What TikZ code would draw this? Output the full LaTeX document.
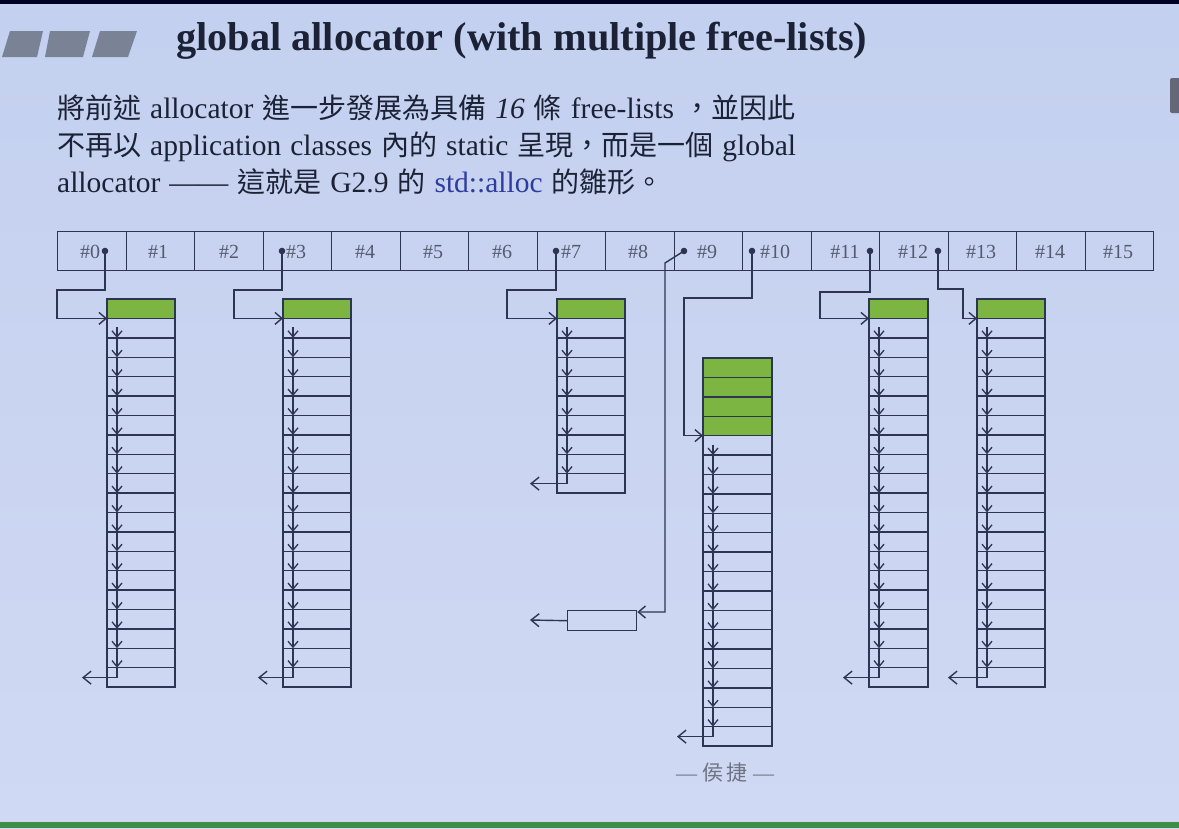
\documentclass[tikz,border=0pt]{standalone}
\usepackage{fontspec}
\setmainfont{Liberation Serif}
\newfontfamily\cjkfont{Noto Sans CJK TC}
\usetikzlibrary{arrows.meta}

\definecolor{bgtop}{HTML}{C3D0EF}
\definecolor{bgbot}{HTML}{D0D9F3}
\definecolor{inkc}{HTML}{2C3652}
\definecolor{txtc}{HTML}{1C2235}
\definecolor{labc}{HTML}{535B6E}
\definecolor{greenc}{HTML}{7DB542}
\definecolor{bluec}{HTML}{2E3C9E}
\definecolor{markc}{HTML}{7A8296}
\definecolor{footc}{HTML}{3E8E46}

\newcommand\rowh{19.4}
\newcommand\zh[1]{{\cjkfont\fontsize{28}{28}\selectfont #1}}
\newcommand\widesp{\spaceskip=9pt plus 1pt\relax}

% one free-list: name, left x, top y, green blocks, white blocks, exit x, width
\newcommand\freelist[7]{%
  \pgfmathsetmacro\gbot{#3+#4*\rowh}%
  \pgfmathsetmacro\wbot{\gbot+#5*\rowh}%
  \pgfmathtruncatemacro\nmid{#5-2}%
  \pgfmathtruncatemacro\nw{#5-1}%
  \fill[greenc] (#2,#3) rectangle (#2+#7,\gbot);
  \draw[ink] (#2,#3) rectangle (#2+#7,\wbot);
  \foreach \r in {1,...,#4}
    \draw[ink] (#2,{#3+\r*\rowh}) -- ++(#7,0);
  \foreach \r in {1,...,\nw}
    \draw[ink] (#2,{\gbot+\r*\rowh}) -- ++(#7,0);
  \coordinate (#1in) at (#2,\gbot);
  \coordinate (#1a) at (#2+10,\gbot+9);
  \draw[darr] (#1a) -- (#2+10,\gbot+\rowh);
  \foreach \r in {1,...,\nmid}
    \draw[darr] (#2+10,{\gbot+\r*\rowh}) -- ++(0,\rowh);
  \coordinate (#1z) at (#2+10,{\gbot+(#5-1)*\rowh+10});
  \coordinate (#1out) at (#6,{\gbot+(#5-1)*\rowh+10});
  \draw[ink] (#2+10,{\gbot+(#5-1)*\rowh}) -- (#1z);
  \draw[earr] (#1z) -- (#1out);
}

\begin{document}
\begin{tikzpicture}[x=1pt,y=-1pt,
  ink/.style={draw=inkc, line width=1.4pt},
  cell/.style={draw=inkc, line width=1.4pt, minimum width=68.5pt, minimum height=39pt, inner sep=0pt, anchor=north west},
  celltxt/.style={text=labc, font=\fontsize{20}{20}\selectfont, inner sep=0pt, anchor=base},
  ptr/.style={draw=inkc, line width=1.4pt, -{Straight Barb[length=7pt,width=12pt,line width=1.4pt]}},
  darr/.style={draw=inkc, line width=1.2pt, -{Straight Barb[length=6pt,width=10pt,line width=1.3pt]}},
  earr/.style={draw=inkc, line width=1.4pt, -{Straight Barb[length=8pt,width=13pt,line width=1.4pt]}},
  para/.style={anchor=base west, inner sep=0pt, text=txtc, font=\fontsize{29.5}{29.5}\selectfont}
]
\useasboundingbox (0,0) rectangle (1179,828);
% slide background
\shade[top color=bgtop, bottom color=bgbot] (0,0) rectangle (1179,828);
\fill[black!85!blue] (0,0) rectangle (1179,4);
\fill[footc] (0,822) rectangle (1179,828);
\fill[markc!80!black, rounded corners=2pt] (1170,78) rectangle (1185,113);

% title bar
\fill[markc] (10,31) -- (43,31) -- (37,57) -- (2,57) -- cycle;
\fill[markc] (50,31) -- (90,31) -- (83,57) -- (45,57) -- cycle;
\fill[markc] (100,31) -- (137,31) -- (128,57) -- (92,57) -- cycle;
\node[anchor=base west, inner sep=0pt, text=txtc, font=\fontsize{40.3}{40}\selectfont\bfseries] (title) at (176,50) {global allocator (with multiple free-lists)};

% paragraph
\node[para] (p1) at (57,118) {\widesp\zh{將前述} allocator \zh{進一步發展為具備} \textit{16} \zh{條} free-lists \zh{，並因此}};
\node[para] (p2) at (57,155) {\widesp\zh{不再以} application classes \zh{內的} static \zh{呈現，而是一個} global};
\node[para] (p3) at (57,192) {\widesp allocator —— \zh{這就是} G2.9 \zh{的} \textcolor{bluec}{std::alloc} \zh{的雛形。}};

% the 16 list heads
\foreach \i in {0,...,15}
  \node[cell] (c\i) at ({57+\i*68.5},231) {};
\foreach \i/\lx in {0/90,1/158,2/229,3/296,4/365,5/433,6/502,7/571,8/638,9/707,10/775,11/845,12/913,13/981,14/1050,15/1118}
  \node[celltxt] (l\i) at (\lx,258) {\#\i};
\foreach \n/\dx in {0/105,3/282,7/556,9/684,10/752,11/870,12/938}{
  \coordinate (d\n) at (\dx,251);
  \fill[inkc] (d\n) circle (3.3pt);
}

% free lists
\freelist{L0}{107}{299}{1}{19}{82}{68}
\freelist{L3}{283}{299}{1}{19}{258}{68}
\freelist{L7}{557}{299}{1}{9}{530}{68}
\freelist{L10}{703}{358}{4}{16}{677}{69}
\freelist{L11}{869}{299}{1}{19}{843}{59}
\freelist{L12}{977}{299}{1}{19}{948}{68}

% single block on list #9
\node[draw=inkc, line width=1.4pt, minimum width=69pt, minimum height=20pt, inner sep=0pt, anchor=north west] (b9) at (567,610) {};
\coordinate (b9out) at (530,620);

% pointers from heads to lists
\draw[ptr] (d0) |- (57,290) |- (L0in);
\draw[ptr] (d3) |- (234,290) |- (L3in);
\draw[ptr] (d7) |- (507,290) |- (L7in);
\draw[ptr] (d9) -- (665,263) |- ([yshift=-2pt]b9.north east);
\draw[earr] (b9.west) -- (b9out);
\draw[ptr] (d10) |- (684,298) |- (L10in);
\draw[ptr] (d11) |- (820,292) |- (L11in);
\draw[ptr] (d12) |- (963,289) |- (L12in);

% author
\node[text=labc!85!white, font=\fontsize{21}{21}\selectfont, inner sep=0pt] (author) at (725,773) {— {\cjkfont 侯\,捷} —};
\end{tikzpicture}
\end{document}
